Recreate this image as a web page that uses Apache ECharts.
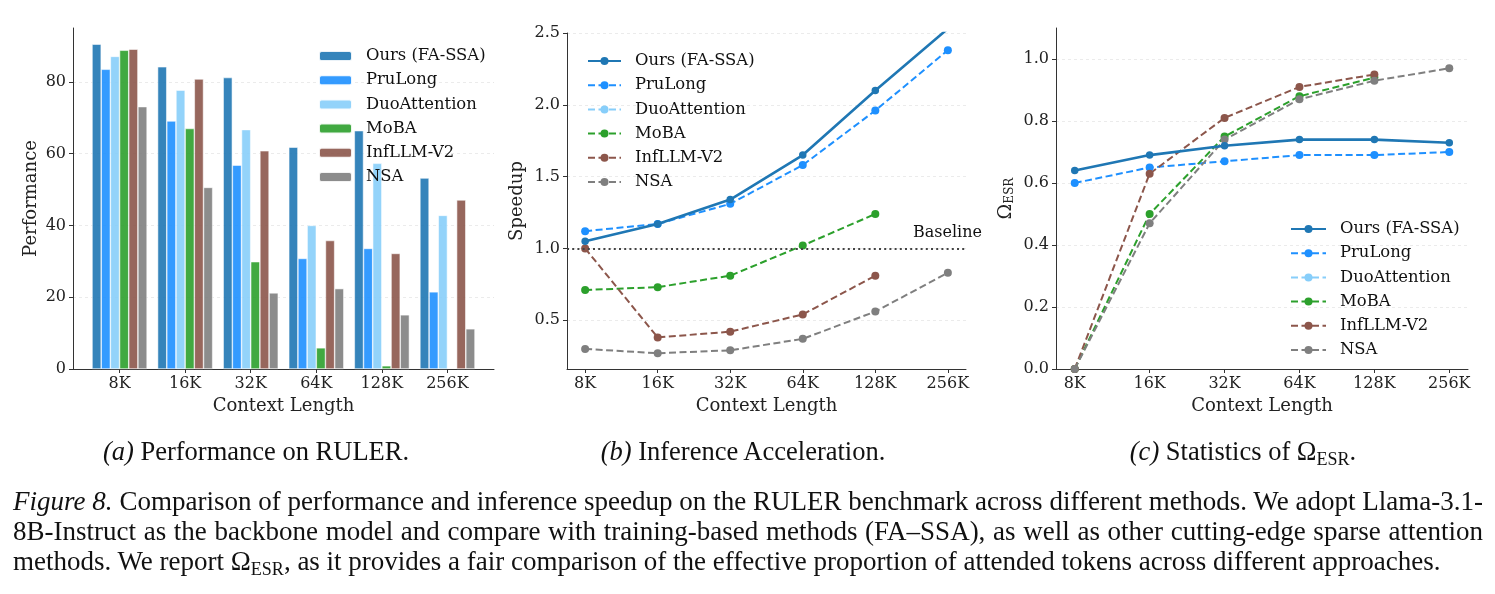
<!DOCTYPE html>
<html>
<head>
<meta charset="utf-8">
<script src="https://cdn.jsdelivr.net/npm/echarts@6/dist/echarts.min.js"></script>
<style>
  html, body { margin: 0; padding: 0; background: #fff; }
  #wrap { position: relative; width: 1495px; height: 594px; overflow: hidden; }
  #chart { position: absolute; left: 0; top: 0; width: 1495px; height: 594px; }
  .sub { position: absolute; top: 436px; height: 30px; line-height: 30px; text-align: center; white-space: nowrap;
    font-family: 'Liberation Serif', serif; font-size: 26.5px; color: #111; }
  .sub sub, #caption sub { font-size: 18px; vertical-align: -5px; line-height: 0; }
  #caption { position: absolute; left: 13px; top: 486px; width: 1470px;
    font-family: 'Liberation Serif', serif; font-size: 27px; line-height: 30px; color: #111; }
  #caption .j { text-align: justify; text-align-last: justify; white-space: nowrap; height: 30px; }
  #caption .l { white-space: nowrap; height: 30px; }
</style>
</head>
<body>
<div id="wrap">
  <div id="chart"></div>
  <div class="sub" style="left:56px; width:400px;"><i>(a)</i> Performance on RULER.</div>
  <div class="sub" style="left:543px; width:400px;"><i>(b)</i> Inference Acceleration.</div>
  <div class="sub" style="left:1043px; width:400px;"><i>(c)</i> Statistics of Ω<sub>ESR</sub>.</div>
  <div id="caption">
    <div class="j"><i>Figure 8.</i> Comparison of performance and inference speedup on the RULER benchmark across different methods. We adopt Llama-3.1-</div>
    <div class="j">8B-Instruct as the backbone model and compare with training-based methods (FA–SSA), as well as other cutting-edge sparse attention</div>
    <div class="l">methods. We report Ω<sub>ESR</sub>, as it provides a fair comparison of the effective proportion of attended tokens across different approaches.</div>
  </div>
</div>
<script>
// 数据
const contexts = ['8K', '16K', '32K', '64K', '128K', '256K'];
const methods = ['Ours (FA-SSA)', 'PruLong', 'DuoAttention', 'MoBA', 'InfLLM-V2', 'NSA'];
const colors = ['#1f77b4', '#1e90ff', '#87cefa', '#2ca02c', '#8c564b', '#7f7f7f'];

// (a) RULER performance
const perfOurs = [90.5, 84.2, 81.2, 61.8, 66.4, 53.2];
const perfPruLong = [83.5, 69.1, 56.8, 30.8, 33.6, 21.5];
const perfDuo = [87.1, 77.7, 66.7, 40.0, 57.3, 42.8];
const perfMoba = [88.8, 67.0, 29.9, 5.9, 0.9, null];
const perfInfllm = [89.1, 80.8, 60.8, 35.8, 32.2, 47.1];
const perfNsa = [73.1, 50.6, 21.2, 22.4, 15.1, 11.2];

// (b) speedup
const spdOurs = [1.05, 1.17, 1.34, 1.65, 2.10, 2.53];
const spdPruLong = [1.12, 1.17, 1.31, 1.58, 1.96, 2.38];
const spdDuo = [];
const spdMoba = [0.71, 0.73, 0.81, 1.02, 1.24, null];
const spdInfllm = [1.00, 0.38, 0.42, 0.54, 0.81, null];
const spdNsa = [0.30, 0.27, 0.29, 0.37, 0.56, 0.83];
const baselineSpeed = 1.0;

// (c) Omega ESR
const esrOurs = [0.64, 0.69, 0.72, 0.74, 0.74, 0.73];
const esrPruLong = [0.60, 0.65, 0.67, 0.69, 0.69, 0.70];
const esrDuo = [];
const esrMoba = [0.00, 0.50, 0.75, 0.88, 0.94, null];
const esrInfllm = [0.00, 0.63, 0.81, 0.91, 0.95, null];
const esrNsa = [0.00, 0.47, 0.74, 0.87, 0.93, 0.97];

const perfTicks = [0, 20, 40, 60, 80];
const spdTicks = [0.5, 1.0, 1.5, 2.0, 2.5];
const esrTicks = [0.0, 0.2, 0.4, 0.6, 0.8, 1.0];
const ctxTicks = [0, 1, 2, 3, 4, 5];

const perfAll = [perfOurs, perfPruLong, perfDuo, perfMoba, perfInfllm, perfNsa];
const spdAll = [spdOurs, spdPruLong, spdDuo, spdMoba, spdInfllm, spdNsa];
const esrAll = [esrOurs, esrPruLong, esrDuo, esrMoba, esrInfllm, esrNsa];

const serif = 'DejaVu Serif';
const barStep = 0.14;

var chart = echarts.init(document.getElementById('chart'));

function xAxisFor(gridIndex, min, max) {
    return {
        type: 'value', gridIndex: gridIndex, min: min, max: max,
        name: 'Context Length', nameLocation: 'middle', nameGap: 28,
        nameTextStyle: {fontFamily: serif, fontSize: 18, color: '#222'},
        axisLine: {onZero: false, lineStyle: {color: '#333', width: 1}},
        axisTick: {length: 4, customValues: ctxTicks, lineStyle: {color: '#333'}},
        axisLabel: {customValues: ctxTicks, fontFamily: serif, fontSize: 16, color: '#222', margin: 7,
            formatter: v => contexts[Math.round(v)]},
        splitLine: {show: false}
    };
}

function yAxisFor(gridIndex, min, max, ticks, name, nameGap, fmt) {
    return {
        type: 'value', gridIndex: gridIndex, min: min, max: max,
        name: name, nameLocation: 'middle', nameGap: nameGap,
        nameTextStyle: {fontFamily: serif, fontSize: 18, color: '#222',
            rich: {o: {fontFamily: serif, fontSize: 19, color: '#222'},
                   s: {fontFamily: serif, fontSize: 12, color: '#222', padding: [7, 0, 0, 0]}}},
        axisLine: {show: true, onZero: false, lineStyle: {color: '#333', width: 1}},
        axisTick: {show: true, length: 4, customValues: ticks, lineStyle: {color: '#333'}},
        axisLabel: {customValues: ticks, fontFamily: serif, fontSize: 16, color: '#222', margin: 7, formatter: fmt},
        splitLine: {show: true, customValues: ticks, lineStyle: {color: '#e6e6e6', type: [3, 3], width: 0.8}}
    };
}

const series = [];

// 柱状图
methods.forEach((m, s) => {
    series.push({
        name: 'a:' + m, type: 'bar', xAxisIndex: 0, yAxisIndex: 0,
        barWidth: 9.2, barGap: '-100%',
        itemStyle: {color: colors[s], opacity: 0.9, borderColor: '#fff', borderWidth: 0.6},
        data: perfAll[s].map((v, i) => [i + (s - 2.5) * barStep, v])
    });
});

function lineSeries(prefix, axisIdx, arrs) {
    methods.forEach((m, s) => {
        const solid = s === 0;
        series.push({
            name: prefix + m, type: 'line', xAxisIndex: axisIdx, yAxisIndex: axisIdx,
            symbol: 'circle', symbolSize: solid ? 7.5 : 8,
            z: solid ? 5 : 3,
            lineStyle: {color: colors[s], width: solid ? 2.6 : 2, type: solid ? 'solid' : [7, 3.5]},
            itemStyle: {color: colors[s]},
            data: arrs[s].map((v, i) => [i, v]).filter(d => d[1] !== null)
        });
    });
}
lineSeries('b:', 1, spdAll);
lineSeries('c:', 2, esrAll);

// baseline
series[7].markLine = {
    silent: true, symbol: 'none',
    lineStyle: {color: '#444', type: [2, 3.2], width: 1.8},
    label: {show: false},
    data: [{yAxis: baselineSpeed}]
};

function legendFor(prefix, left, top, iw, ih) {
    return {
        orient: 'vertical', left: left, top: top,
        itemWidth: iw, itemHeight: ih, itemGap: 8.2,
        selectedMode: false,
        data: methods.map(m => prefix + m),
        formatter: n => n.slice(2),
        textStyle: {fontFamily: serif, fontSize: 16.4, color: '#111', lineHeight: 16, padding: [0, 0, 0, 9]}
    };
}

option = {
    animation: false,
    grid: [
        {left: 73, top: 28, width: 421, height: 341},
        {left: 567, top: 33, width: 399, height: 336},
        {left: 1056, top: 28, width: 412, height: 341}
    ],
    xAxis: [xAxisFor(0, -0.71, 5.71), xAxisFor(1, -0.25, 5.25), xAxisFor(2, -0.25, 5.25)],
    yAxis: [
        yAxisFor(0, 0, 95, perfTicks, 'Performance', 33, v => String(v)),
        yAxisFor(1, 0.16, 2.5, spdTicks, 'Speedup', 41, v => v.toFixed(1)),
        yAxisFor(2, 0, 1.1, esrTicks, '{o|Ω}{s|ESR}', 40, v => v.toFixed(1))
    ],
    legend: [
        legendFor('a:', 313, 43, 33, 10),
        legendFor('b:', 582, 48, 33, 10),
        legendFor('c:', 1285, 216, 35, 10)
    ],
    graphic: [
        {type: 'text', x: 982, y: 233, style: {text: 'Baseline', font: '16px "DejaVu Serif"', fill: '#111',
            align: 'right', verticalAlign: 'middle'}}
    ],
    series: series
};

chart.setOption(option);
</script>
</body>
</html>
